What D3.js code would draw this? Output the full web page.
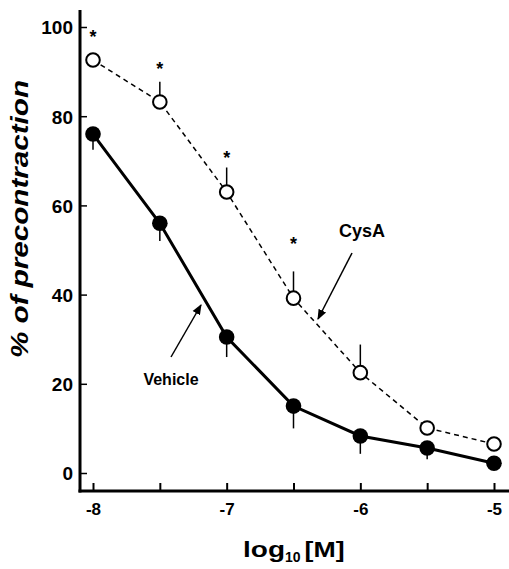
<!DOCTYPE html>
<html><head><meta charset="utf-8">
<script src="https://cdn.jsdelivr.net/npm/d3@7"></script>
<style>body{margin:0;background:#fff}svg{display:block}text{font-family:"Liberation Sans",Arial,sans-serif;font-weight:bold;fill:#000}</style>
</head><body>
<script>
const logConc = [-8, -7.5, -7, -6.5, -6, -5.5, -5];
const vehicle = [76, 56, 30.5, 15, 8.3, 5.6, 2.2];
const vehicleErr = [3.5, 4, 4.5, 5, 4, 2.5, 0];
const cysA = [92.6, 83.2, 63, 39.2, 22.5, 10.1, 6.5];
const cysAErr = [0, 4.5, 5.5, 6, 6.3, 0, 0];
const asteriskLevel = [98.7, 91.5, 71.5, 52.2, null, null, null];
const xTicks = [-8, -7.5, -7, -6.5, -6, -5.5, -5];
const xTickLabels = ["-8", "", "-7", "", "-6", "", "-5"];
const yTicks = [0, 20, 40, 60, 80, 100];

const W = 509, H = 569;
const svg = d3.select("body").append("svg").attr("width", W).attr("height", H);

const x = d3.scaleLinear().domain([-8, -5]).range([93, 494]);
const y = d3.scaleLinear().domain([0, 100]).range([473, 27]);
const x0 = 80, yBase = 491;

// x axis
const gx = svg.append("g").attr("transform", `translate(0,${yBase})`)
  .call(d3.axisBottom(x).tickValues(xTicks).tickFormat((d,i)=>xTickLabels[i]).tickSizeInner(-8).tickSizeOuter(0).tickPadding(11));
gx.select(".domain").remove();
gx.selectAll(".tick line").attr("stroke", "#000").attr("stroke-width", 2);
gx.selectAll(".tick text").style("font-size", "17px").attr("dy", "0.75em");
svg.append("line").attr("x1", x0 - 1.5).attr("x2", W).attr("y1", yBase).attr("y2", yBase)
  .attr("stroke", "#000").attr("stroke-width", 3);

// y axis
const gy = svg.append("g").attr("transform", `translate(${x0},0)`)
  .call(d3.axisLeft(y).tickValues(yTicks).tickSizeInner(-7).tickSizeOuter(0).tickPadding(7));
gy.select(".domain").remove();
gy.selectAll(".tick line").attr("stroke", "#000").attr("stroke-width", 1.5);
gy.selectAll(".tick text").style("font-size", "19px").attr("dy", "0.36em");
svg.append("line").attr("x1", x0).attr("x2", x0).attr("y1", 10).attr("y2", yBase + 1.5)
  .attr("stroke", "#000").attr("stroke-width", 3);

// error bars
svg.append("g").selectAll("line").data(logConc).join("line")
  .attr("x1", d => x(d)).attr("x2", d => x(d))
  .attr("y1", (d,i) => y(vehicle[i])).attr("y2", (d,i) => y(vehicle[i] - vehicleErr[i]))
  .attr("stroke", "#000").attr("stroke-width", 1.5);
svg.append("g").selectAll("line").data(logConc).join("line")
  .attr("x1", d => x(d)).attr("x2", d => x(d))
  .attr("y1", (d,i) => y(cysA[i])).attr("y2", (d,i) => y(cysA[i] + cysAErr[i]))
  .attr("stroke", "#000").attr("stroke-width", 1.5);

// lines
const line = d3.line().x(d => x(d[0])).y(d => y(d[1]));
svg.append("path").datum(logConc.map((d,i)=>[d, cysA[i]])).attr("d", line)
  .attr("fill", "none").attr("stroke", "#000").attr("stroke-width", 1.5).attr("stroke-dasharray", "5,4");
svg.append("path").datum(logConc.map((d,i)=>[d, vehicle[i]])).attr("d", line)
  .attr("fill", "none").attr("stroke", "#000").attr("stroke-width", 3);

// markers
svg.append("g").selectAll("circle").data(logConc).join("circle")
  .attr("cx", d => x(d)).attr("cy", (d,i) => y(cysA[i])).attr("r", 6.8)
  .attr("fill", "#fff").attr("stroke", "#000").attr("stroke-width", 2);
svg.append("g").selectAll("circle").data(logConc).join("circle")
  .attr("cx", d => x(d)).attr("cy", (d,i) => y(vehicle[i])).attr("r", 7.8)
  .attr("fill", "#000");

// asterisks
svg.append("g").selectAll("text").data(logConc.map((d,i)=>[d, asteriskLevel[i]]).filter(d=>d[1]!==null)).join("text")
  .attr("x", d => x(d[0])).attr("y", d => y(d[1]) + 10)
  .attr("text-anchor", "middle").style("font-size", "18px").text("*");

// labels
svg.append("text").attr("x", 362).attr("y", 237).attr("text-anchor", "middle").style("font-size", "18px").text("CysA");
svg.append("text").attr("x", 171).attr("y", 385).attr("text-anchor", "middle").style("font-size", "16px").text("Vehicle");

// arrows
const defs = svg.append("defs");
defs.append("marker").attr("id", "ah").attr("viewBox", "0 0 10 10").attr("refX", 9).attr("refY", 5)
  .attr("markerWidth", 7).attr("markerHeight", 7).attr("orient", "auto")
  .append("path").attr("d", "M0,1 L10,5 L0,9 Z").attr("fill", "#000");
svg.append("line").attr("x1", 352).attr("y1", 253).attr("x2", 318).attr("y2", 319)
  .attr("stroke", "#000").attr("stroke-width", 1.5).attr("marker-end", "url(#ah)");
svg.append("line").attr("x1", 171).attr("y1", 357).attr("x2", 201).attr("y2", 305)
  .attr("stroke", "#000").attr("stroke-width", 1.5).attr("marker-end", "url(#ah)");

// axis titles
const t = svg.append("text").attr("x", 243).attr("y", 557).style("font-size", "22px");
t.append("tspan").attr("textLength", 42).attr("lengthAdjust", "spacingAndGlyphs").text("log");
t.append("tspan").attr("dy", 5).style("font-size", "14px").text("10");
t.append("tspan").attr("dy", -5).attr("dx", 4).attr("textLength", 40).attr("lengthAdjust", "spacingAndGlyphs").text("[M]");

svg.append("text").attr("transform", "translate(28,219) rotate(-90)").attr("text-anchor", "middle")
  .attr("textLength", 278).attr("lengthAdjust", "spacingAndGlyphs")
  .style("font-size", "24px").style("font-style", "italic").text("% of precontraction");
</script>
</body></html>
